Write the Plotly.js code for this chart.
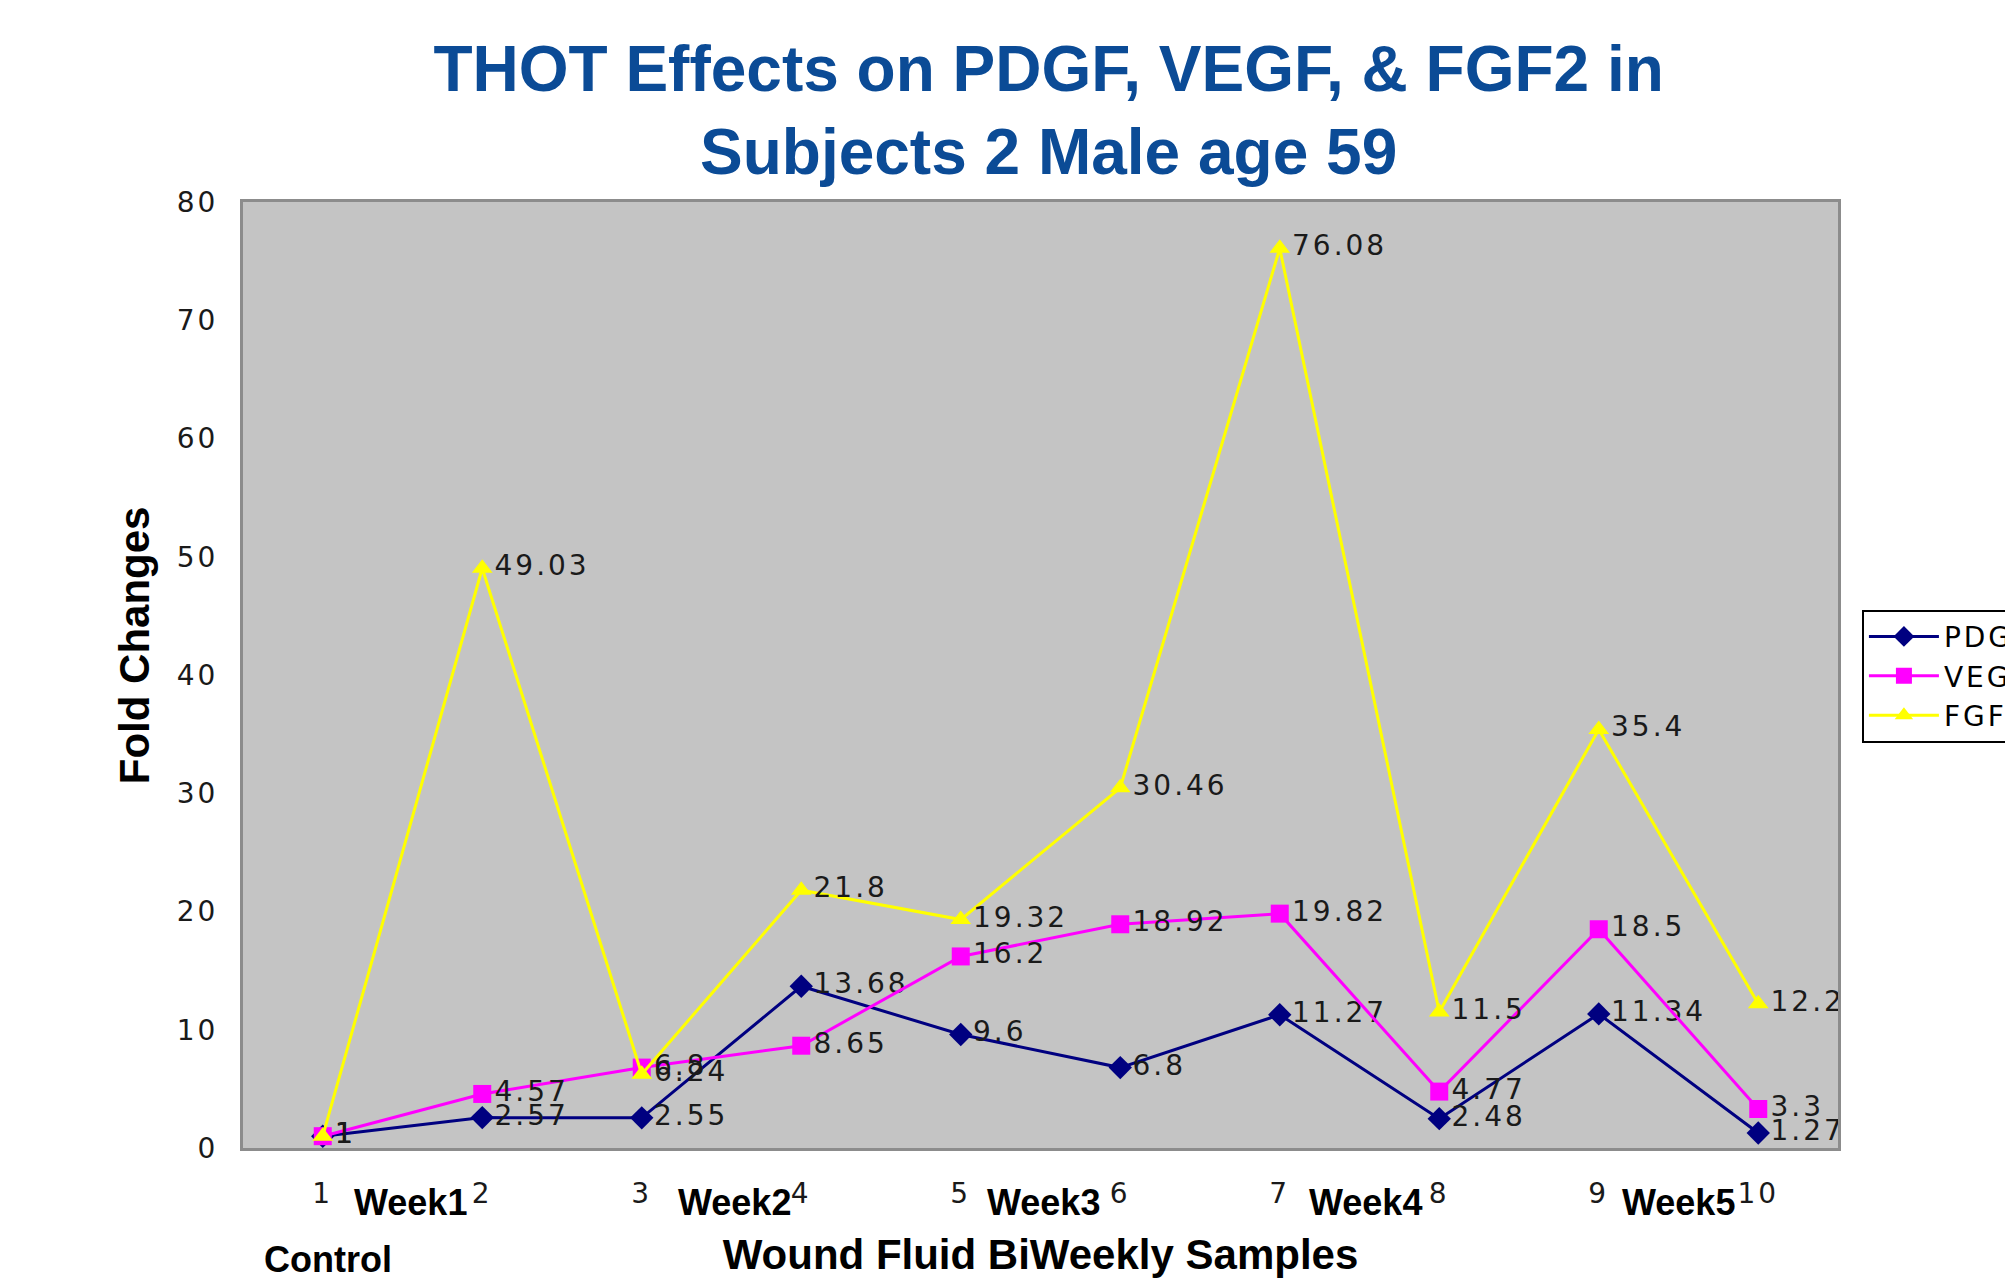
<!DOCTYPE html>
<html>
<head>
<meta charset="utf-8">
<script src="https://cdn.plot.ly/plotly-3.0.1.min.js"></script>
<style>
  body { margin: 0; background: #fff; }
  #plot { width: 2005px; height: 1278px; }
  .textpoint text, .ytick text, .xtick text, .legendtext { letter-spacing: 3px; }
</style>
</head>
<body>
<div id="plot"></div>
<script>
// Samples along the x axis and the three growth factor series
const samples = [1, 2, 3, 4, 5, 6, 7, 8, 9, 10];
const sampleLabels = ["1", "2", "3", "4", "5", "6", "7", "8", "9", "10"];
const pdgf = [1, 2.57, 2.55, 13.68, 9.6, 6.8, 11.27, 2.48, 11.34, 1.27];
const vegf = [1, 4.57, 6.8, 8.65, 16.2, 18.92, 19.82, 4.77, 18.5, 3.3];
const fgf2 = [1, 49.03, 6.24, 21.8, 19.32, 30.46, 76.08, 11.5, 35.4, 12.2];
const weekLabels = ["Week1", "Week2", "Week3", "Week4", "Week5"];
const weekPos = [1.55, 3.58, 5.52, 7.54, 9.5];

const labelFont = { family: "DejaVu Sans", size: 28, color: "#1a1a1a" };
const boldFont = "Liberation Sans, Arial, sans-serif";

function series(name, y, color, symbol) {
  return {
    x: samples,
    y: y,
    name: name,
    type: "scatter",
    mode: "lines+markers+text",
    text: y.map(String),
    textposition: "middle right",
    textfont: labelFont,
    line: { color: color, width: 3 },
    marker: { color: color, symbol: symbol, size: 18 },
    cliponaxis: false
  };
}

const traces = [
  series("PDGF", pdgf, "#000080", "diamond"),
  series("VEGF", vegf, "#ff00ff", "square"),
  series("FGF2", fgf2, "#ffff00", "triangle-up")
];

// Week annotations sit between pairs of sample ticks
const annotations = weekLabels.map((w, i) => ({
  text: "<b>" + w + "</b>",
  x: weekPos[i], xref: "x",
  y: -0.058, yref: "paper", yanchor: "middle",
  showarrow: false,
  font: { family: boldFont, size: 36, color: "#000" }
}));
annotations.push({
  text: "<b>Control</b>",
  x: 0.053, xref: "paper", xanchor: "center",
  y: -0.118, yref: "paper", yanchor: "middle",
  showarrow: false,
  font: { family: boldFont, size: 36, color: "#000" }
});
// y axis title sits a little above the plot's middle in the original
annotations.push({
  text: "<b>Fold Changes</b>",
  textangle: -90,
  x: -0.068, xref: "paper", xanchor: "center",
  y: 0.531, yref: "paper", yanchor: "middle",
  showarrow: false,
  font: { family: boldFont, size: 42, color: "#000" }
});

const layout = {
  width: 2005,
  height: 1278,
  paper_bgcolor: "#ffffff",
  plot_bgcolor: "#c4c4c4",
  margin: { l: 243, r: 167, t: 202, b: 130, autoexpand: false },
  title: {
    text: "THOT Effects on PDGF, VEGF, & FGF2 in<br>Subjects 2 Male age 59",
    font: { family: "Liberation Sans, Arial, sans-serif", size: 64, color: "#0b4b96", weight: "bold" },
    xref: "container", x: 0.523, xanchor: "center",
    yref: "container", y: 0.929, yanchor: "top"
  },
  xaxis: {
    range: [0.5, 10.5],
    tickvals: samples,
    ticktext: sampleLabels,
    tickfont: labelFont,
    ticks: "",
    ticklabelstandoff: 18,
    showgrid: false,
    zeroline: false,
    showline: true, mirror: true, linecolor: "#8c8c8c", linewidth: 3,
    title: {
      text: "<b>Wound Fluid BiWeekly Samples</b>",
      font: { family: boldFont, size: 42, color: "#000" },
      standoff: 48
    }
  },
  yaxis: {
    range: [0, 80],
    dtick: 10,
    tickfont: labelFont,
    ticks: "",
    ticklabelstandoff: 16,
    showgrid: false,
    zeroline: false,
    showline: true, mirror: true, linecolor: "#8c8c8c", linewidth: 3
  },
  legend: {
    x: 1.015, xanchor: "left",
    y: 0.569, yanchor: "top",
    bgcolor: "#ffffff",
    bordercolor: "#000000",
    borderwidth: 2,
    itemwidth: 70,
    font: { family: "DejaVu Sans", size: 28, color: "#000" },
    tracegroupgap: 0
  },
  showlegend: true,
  annotations: annotations
};

Plotly.newPlot("plot", traces, layout, { displayModeBar: false, staticPlot: true });
</script>
</body>
</html>
